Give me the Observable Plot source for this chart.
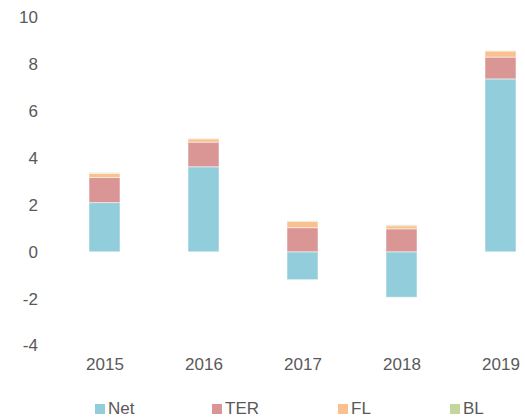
<!DOCTYPE html>
<html>
<head>
<meta charset="utf-8">
<script src="https://cdn.jsdelivr.net/npm/d3@7"></script>
<script src="https://cdn.jsdelivr.net/npm/@observablehq/plot@0.6"></script>
<style>
  html, body { margin: 0; padding: 0; background: #fff; overflow: hidden; }
  body { width: 525px; height: 418px; font-family: "Liberation Sans", Arial, sans-serif; }
  #legend { position: relative; height: 23px; padding-top: 4px; }
  .item { position: absolute; top: 4px; display: flex; align-items: flex-start; font-size: 17px; line-height: 19px; color: #595959; }
  .sw { width: 10px; height: 10px; margin-top: 5px; margin-right: 3px; }
</style>
</head>
<body>
<div id="chart"></div>
<div id="legend"></div>
<script>
const years = ["2015", "2016", "2017", "2018", "2019"];
const series = ["Net", "TER", "FL", "BL"];
const colors = ["#92CDDC", "#DA9694", "#FAC090", "#C4D79B"];
const net = [2.10, 3.63, -1.19, -1.94, 7.38];
const ter = [1.07, 1.05, 1.03, 0.98, 0.93];
const fl  = [0.17, 0.14, 0.27, 0.13, 0.26];
const bl  = [0.04, 0.02, 0.02, 0.04, 0.01];
const yTicks = [-4, -2, 0, 2, 4, 6, 8, 10];

const legendLeft = [95, 212, 338, 450];

const valuesBySeries = [net, ter, fl, bl];
const data = [];
series.forEach((s, i) => years.forEach((y, j) => data.push({year: y, series: s, value: valuesBySeries[i][j]})));

const chart = Plot.plot({
  width: 525,
  height: 395,
  marginTop: 17.5,
  marginBottom: 49.5,
  marginLeft: 54.4,
  marginRight: 0,
  style: {fontFamily: "Liberation Sans, Arial, sans-serif", fontSize: "17px", color: "#595959", background: "#fff"},
  x: {domain: years, range: [54.4, 550.6], paddingInner: 0.688, paddingOuter: 0.344, label: null, tickSize: 0, tickPadding: 12},
  y: {domain: [-4, 10], ticks: yTicks, tickFormat: d => String(d), label: null, tickSize: 0, tickPadding: 17},
  color: {domain: series, range: colors},
  marks: [
    Plot.barY(data, {x: "year", y: "value", fill: "series", stroke: "#fff", strokeWidth: 1, strokeOpacity: 0.5})
  ]
});
document.getElementById("chart").appendChild(chart);

const legend = d3.select("#legend");
series.forEach((s, i) => {
  const it = legend.append("div").attr("class", "item").style("left", legendLeft[i] + "px");
  it.append("div").attr("class", "sw").style("background", colors[i]);
  it.append("span").text(s);
});
</script>
</body>
</html>
